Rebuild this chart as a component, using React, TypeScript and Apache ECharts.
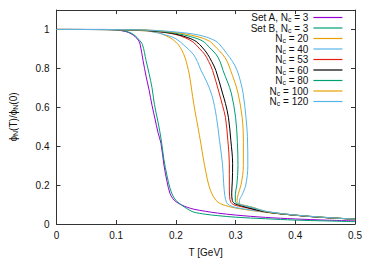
import React, { useEffect, useRef } from 'react';
import * as echarts from 'echarts';

const seriesNames = [
  'Set A, N_c = 3',
  'Set B, N_c = 3',
  'N_c = 20',
  'N_c = 40',
  'N_c = 53',
  'N_c = 60',
  'N_c = 80',
  'N_c = 100',
  'N_c = 120',
];

const seriesColors = ['#9400d3', '#009e73', '#e69f00', '#56b4e9', '#e51e10', '#000000', '#009e73', '#e69f00', '#56b4e9'];

const setA: number[][] = [[0,1],[0.08,1],[0.1,0.997],[0.115,0.99],[0.125,0.978],[0.132,0.962],[0.137,0.945],[0.14,0.925],[0.145,0.84],[0.15,0.76],[0.155,0.69],[0.16,0.61],[0.165,0.54],[0.17,0.47],[0.175,0.415],[0.18,0.303],[0.185,0.22],[0.19,0.158],[0.195,0.13],[0.2,0.115],[0.21,0.097],[0.22,0.085],[0.23,0.076],[0.25,0.065],[0.27,0.056],[0.3,0.046],[0.35,0.034],[0.4,0.026],[0.45,0.02],[0.5,0.016]];

const setB: number[][] = [[0,1],[0.08,1],[0.1,0.998],[0.115,0.992],[0.125,0.981],[0.132,0.967],[0.138,0.948],[0.144,0.922],[0.15,0.84],[0.155,0.774],[0.16,0.7],[0.164,0.615],[0.17,0.525],[0.175,0.44],[0.18,0.33],[0.185,0.25],[0.19,0.185],[0.195,0.145],[0.2,0.122],[0.205,0.108],[0.21,0.096],[0.218,0.08],[0.229,0.062],[0.25,0.05],[0.27,0.043],[0.3,0.035],[0.35,0.027],[0.4,0.02],[0.45,0.016],[0.5,0.012]];

const nc20: number[][] = [[0,1],[0.1,0.999],[0.15,0.992],[0.171,0.983],[0.18,0.972],[0.19,0.958],[0.197,0.943],[0.204,0.922],[0.21,0.893],[0.215,0.858],[0.219,0.815],[0.222,0.775],[0.225,0.72],[0.228,0.655],[0.232,0.58],[0.237,0.497],[0.242,0.41],[0.246,0.335],[0.25,0.27],[0.255,0.2],[0.26,0.158],[0.267,0.122],[0.275,0.104],[0.283,0.095],[0.3,0.082],[0.35,0.06],[0.4,0.045],[0.45,0.033],[0.5,0.025]];

const nc40: number[][] = [[0,1],[0.1,0.999],[0.15,0.993],[0.18,0.974],[0.2,0.952],[0.215,0.915],[0.229,0.873],[0.236,0.835],[0.242,0.79],[0.251,0.735],[0.2605,0.66],[0.268,0.548],[0.273,0.43],[0.278,0.31],[0.28,0.21],[0.282,0.145],[0.285,0.11],[0.29,0.096],[0.3,0.085],[0.35,0.061],[0.4,0.045],[0.45,0.033],[0.5,0.025]];

const nc53: number[][] = [[0,1],[0.1,0.999],[0.15,0.995],[0.18,0.985],[0.2,0.974],[0.215,0.958],[0.229,0.935],[0.24,0.9],[0.248,0.873],[0.255,0.835],[0.2615,0.789],[0.2725,0.673],[0.278,0.61],[0.283,0.548],[0.287,0.43],[0.2895,0.31],[0.2895,0.2],[0.29,0.14],[0.292,0.112],[0.297,0.099],[0.305,0.092],[0.32,0.082],[0.35,0.062],[0.4,0.045],[0.45,0.033],[0.5,0.025]];

const nc60: number[][] = [[0,1],[0.1,0.999],[0.15,0.995],[0.18,0.986],[0.2,0.976],[0.22,0.958],[0.234,0.938],[0.245,0.905],[0.253,0.873],[0.26,0.835],[0.267,0.789],[0.278,0.673],[0.283,0.62],[0.288,0.548],[0.292,0.43],[0.295,0.31],[0.2945,0.22],[0.2935,0.16],[0.2945,0.12],[0.299,0.104],[0.308,0.095],[0.32,0.084],[0.35,0.063],[0.4,0.045],[0.45,0.033],[0.5,0.025]];

const nc80: number[][] = [[0,1],[0.1,0.999],[0.15,0.996],[0.2,0.98],[0.225,0.963],[0.245,0.94],[0.257,0.905],[0.267,0.873],[0.274,0.835],[0.279,0.789],[0.2865,0.73],[0.2928,0.673],[0.3,0.548],[0.303,0.42],[0.304,0.3],[0.302,0.2],[0.2995,0.15],[0.2995,0.118],[0.303,0.104],[0.31,0.097],[0.325,0.086],[0.35,0.064],[0.4,0.046],[0.45,0.034],[0.5,0.025]];

const nc100: number[][] = [[0,1],[0.1,0.999],[0.15,0.997],[0.2,0.984],[0.235,0.964],[0.256,0.94],[0.268,0.905],[0.278,0.873],[0.286,0.835],[0.2917,0.789],[0.298,0.735],[0.304,0.673],[0.311,0.548],[0.313,0.42],[0.313,0.3],[0.309,0.2],[0.304,0.15],[0.3025,0.12],[0.306,0.104],[0.315,0.096],[0.33,0.085],[0.35,0.065],[0.4,0.046],[0.45,0.034],[0.5,0.025]];

const nc120: number[][] = [[0,1],[0.1,0.999],[0.15,0.997],[0.2,0.987],[0.24,0.97],[0.267,0.94],[0.278,0.905],[0.286,0.873],[0.295,0.835],[0.3026,0.789],[0.308,0.735],[0.3125,0.673],[0.3174,0.548],[0.3198,0.45],[0.3205,0.3],[0.317,0.2],[0.311,0.15],[0.3065,0.12],[0.3065,0.104],[0.313,0.096],[0.325,0.088],[0.35,0.066],[0.4,0.046],[0.45,0.034],[0.5,0.025]];

const seriesData = [setA, setB, nc20, nc40, nc53, nc60, nc80, nc100, nc120];

const xMin = 0;
const xMax = 0.5;
const xStep = 0.1;
const yMin = 0;
const yMax = 1.1;
const yStep = 0.2;

const FONT = '"Liberation Sans", Arial, Helvetica, sans-serif';
const AXIS_COLOR = '#333';
const TEXT_COLOR = '#111';

function richName(name: string): string {
  const parts = name.split('_c');
  if (parts.length < 2) return `{m|${name}}`;
  return `{m|${parts[0]}}{s|c}{m|${parts[1]}}`;
}

export default function App() {
  const ref = useRef<HTMLDivElement>(null);

  useEffect(() => {
    document.body.style.margin = '0';
    if (!ref.current) return;
    const chart = echarts.init(ref.current, undefined, { renderer: 'svg' });

    const commonTick = { show: true, inside: true, length: 4, lineStyle: { color: AXIS_COLOR, width: 1 } };
    const commonLine = { show: true, onZero: false, lineStyle: { color: AXIS_COLOR, width: 1 } };

    chart.setOption({
      animation: false,
      backgroundColor: '#fff',
      textStyle: { fontFamily: FONT },
      grid: { left: 51, right: 19, top: 10, bottom: 33, containLabel: false },
      legend: {
        orient: 'vertical',
        right: 31,
        top: 12,
        padding: 0,
        align: 'right',
        itemWidth: 29,
        itemHeight: 10,
        itemGap: -0.5,
        selectedMode: false,
        data: seriesNames,
        itemStyle: { opacity: 0, borderWidth: 0 },
        lineStyle: { width: 1.2 },
        formatter: (name: string) => richName(name),
        textStyle: {
          fontFamily: FONT,
          fontSize: 10,
          color: TEXT_COLOR,
          width: 70,
          rich: {
            m: { fontSize: 10, lineHeight: 10, fontFamily: FONT, color: TEXT_COLOR, align: 'right' },
            s: { fontSize: 7, lineHeight: 7, padding: [4, 0, 0, 0], fontFamily: FONT, color: TEXT_COLOR, align: 'right' },
          },
        },
      },
      xAxis: [
        {
          type: 'value',
          position: 'bottom',
          min: xMin,
          max: xMax,
          interval: xStep,
          axisLine: commonLine,
          axisTick: commonTick,
          splitLine: { show: false },
          axisLabel: { margin: 6, fontSize: 10, color: TEXT_COLOR, fontFamily: FONT },
          name: 'T [GeV]',
          nameLocation: 'middle',
          nameGap: 23,
          nameTextStyle: { fontSize: 10, color: TEXT_COLOR, fontFamily: FONT },
        },
        {
          type: 'value',
          position: 'top',
          min: xMin,
          max: xMax,
          interval: xStep,
          axisLine: commonLine,
          axisTick: commonTick,
          splitLine: { show: false },
          axisLabel: { show: false },
        },
      ],
      yAxis: [
        {
          type: 'value',
          position: 'left',
          min: yMin,
          max: yMax,
          interval: yStep,
          axisLine: commonLine,
          axisTick: commonTick,
          splitLine: { show: false },
          axisLabel: { margin: 7, fontSize: 10, color: TEXT_COLOR, fontFamily: FONT, showMaxLabel: false },
          name: '{m|ϕ}{s|N}{m|(T)/ϕ}{s|N}{m|(0)}',
          nameLocation: 'middle',
          nameRotate: 90,
          nameGap: 38,
          nameTextStyle: {
            fontSize: 10,
            color: TEXT_COLOR,
            fontFamily: FONT,
            rich: {
              m: { fontSize: 10, lineHeight: 10, fontFamily: FONT, color: TEXT_COLOR },
              s: { fontSize: 7, lineHeight: 7, padding: [4, 0, 0, 0], fontFamily: FONT, color: TEXT_COLOR },
            },
          },
        },
        {
          type: 'value',
          position: 'right',
          min: yMin,
          max: yMax,
          interval: yStep,
          axisLine: commonLine,
          axisTick: commonTick,
          splitLine: { show: false },
          axisLabel: { show: false },
        },
      ],
      series: seriesNames.map((name, i) => ({
        name,
        type: 'line',
        xAxisIndex: 0,
        yAxisIndex: 0,
        data: seriesData[i],
        symbol: 'none',
        showSymbol: false,
        smooth: 0.35,
        color: seriesColors[i],
        lineStyle: { color: seriesColors[i], width: 1 },
        emphasis: { disabled: true },
      })),
    });

    return () => chart.dispose();
  }, []);

  return <div ref={ref} style={{ width: 374, height: 262 }} />;
}
